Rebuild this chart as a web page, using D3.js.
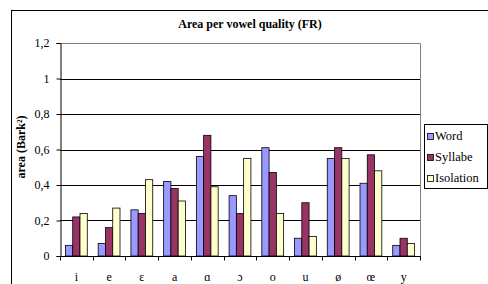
<!DOCTYPE html>
<html>
<head>
<meta charset="utf-8">
<script src="https://cdnjs.cloudflare.com/ajax/libs/d3/7.8.5/d3.min.js"></script>
<style>
  body { margin: 0; background: #fff; }
  text { font-family: "Liberation Serif", "Times New Roman", serif; }
</style>
</head>
<body>
<div id="my_dataviz"></div>
<script>
// vowel categories and the three series
var vowels = ["i", "e", "ɛ", "a", "ɑ", "ɔ", "o", "u", "ø", "œ", "y"]
var word = [0.06, 0.07, 0.26, 0.42, 0.56, 0.34, 0.61, 0.10, 0.55, 0.41, 0.06]
var syllabe = [0.22, 0.16, 0.24, 0.38, 0.68, 0.24, 0.47, 0.30, 0.61, 0.57, 0.10]
var isolation = [0.24, 0.27, 0.43, 0.31, 0.39, 0.55, 0.24, 0.11, 0.55, 0.48, 0.07]
var seriesNames = ["Word", "Syllabe", "Isolation"]
var yTicks = [0, 0.2, 0.4, 0.6, 0.8, 1, 1.2]

var width = 488,
    height = 284

var svg = d3.select("#my_dataviz")
  .append("svg")
    .attr("width", width)
    .attr("height", height)

// outer chart border
svg.append("rect")
  .attr("x", 11.5).attr("y", 10.5)
  .attr("width", 480).attr("height", 300)
  .attr("fill", "none")
  .attr("stroke", "#000")

// plot area (don't call it "top", that's window.top)
var pLeft = 60, pRight = 420, pTop = 43, pBottom = 256

var y = d3.scaleLinear().domain([0, 1.2]).range([pBottom, pTop])
var x = d3.scaleBand().domain(vowels).range([pLeft, pRight])
var bw = x.bandwidth()
// gap width 150% like excel
var x1 = d3.scaleBand().domain(seriesNames)
  .range([bw * 0.75 / 4.5, bw - bw * 0.75 / 4.5])

var color = d3.scaleOrdinal()
  .domain(seriesNames)
  .range(["#9999FF", "#993366", "#FFFFCC"])

// gridlines
svg.selectAll("grid")
  .data(yTicks.filter(function(d){ return d > 0 && d < 1.2 }))
  .enter()
  .append("line")
    .attr("x1", pLeft).attr("x2", pRight)
    .attr("y1", function(d){ return Math.round(y(d)) + 0.5 })
    .attr("y2", function(d){ return Math.round(y(d)) + 0.5 })
    .attr("stroke", "#000")

// top and right border of plot area (gray)
svg.append("path")
  .attr("d", "M" + pLeft + "," + (pTop + 0.5) + "H" + (pRight + 0.5) + "V" + pBottom)
  .attr("fill", "none")
  .attr("stroke", "#808080")

// bars
var rows = vowels.map(function(v, i) {
  return { key: v, values: [word[i], syllabe[i], isolation[i]] }
})

var groups = svg.selectAll("groups")
  .data(rows)
  .enter()
  .append("g")
    .attr("transform", function(d){ return "translate(" + x(d.key) + ",0)" })

groups.selectAll("rect")
  .data(function(d){ return d.values.map(function(v, j){ return { name: seriesNames[j], value: v } }) })
  .enter()
  .append("rect")
    .attr("x", function(d){ return x1(d.name) })
    .attr("y", function(d){ return y(d.value) })
    .attr("width", x1.bandwidth())
    .attr("height", function(d){ return pBottom - y(d.value) })
    .attr("fill", function(d){ return color(d.name) })
    .attr("stroke", "#000")
    .attr("stroke-width", 0.8)

// y axis
var yAxis = svg.append("g")
  .attr("transform", "translate(" + (pLeft + 0.5) + ",0)")
  .call(d3.axisLeft(y).tickValues(yTicks).tickSize(4).tickPadding(7)
    .tickFormat(function(d){ return String(d).replace(".", ",") }))
yAxis.select(".domain").attr("stroke", "#000")
yAxis.selectAll("text")
  .style("font-size", "12px")
  .style("font-family", "Liberation Serif, serif")
  .attr("fill", "#000")

// x axis, ticks between categories
var xAxis = svg.append("g")
  .attr("transform", "translate(0," + (pBottom + 0.5) + ")")
xAxis.append("line")
  .attr("x1", pLeft).attr("x2", pRight + 1)
  .attr("stroke", "#000")
xAxis.selectAll("ticks")
  .data(vowels.concat(["end"]))
  .enter()
  .append("line")
    .attr("x1", function(d, i){ return Math.round(pLeft + i * bw) + 0.5 })
    .attr("x2", function(d, i){ return Math.round(pLeft + i * bw) + 0.5 })
    .attr("y1", 0).attr("y2", 4)
    .attr("stroke", "#000")
xAxis.selectAll("labels")
  .data(vowels)
  .enter()
  .append("text")
    .attr("x", function(d){ return x(d) + bw / 2 })
    .attr("y", 24)
    .attr("text-anchor", "middle")
    .style("font-size", "12px")
    .text(function(d){ return d })

// title
svg.append("text")
  .attr("x", 250).attr("y", 28)
  .attr("text-anchor", "middle")
  .style("font-size", "12px")
  .style("font-weight", "bold")
  .text("Area per vowel quality (FR)")

// y axis title
svg.append("text")
  .attr("transform", "translate(25,147) rotate(-90)")
  .attr("text-anchor", "middle")
  .style("font-size", "12px")
  .style("font-weight", "bold")
  .text("area (Bark²)")

// legend
svg.append("rect")
  .attr("x", 424.5).attr("y", 124.5)
  .attr("width", 63).attr("height", 64)
  .attr("fill", "#fff")
  .attr("stroke", "#000")

var size = 6
svg.selectAll("mydots")
  .data(seriesNames)
  .enter()
  .append("rect")
    .attr("x", 427.5)
    .attr("y", function(d, i){ return 133.5 + i * 21 })
    .attr("width", size)
    .attr("height", size)
    .attr("fill", function(d){ return color(d) })
    .attr("stroke", "#000")
    .attr("stroke-width", 0.8)

svg.selectAll("mylabels")
  .data(seriesNames)
  .enter()
  .append("text")
    .attr("x", 435)
    .attr("y", function(d, i){ return 140 + i * 21 })
    .style("font-size", "12.5px")
    .text(function(d){ return d })
</script>
</body>
</html>
